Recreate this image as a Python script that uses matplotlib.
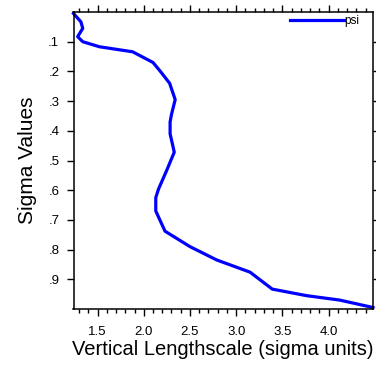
import matplotlib
matplotlib.use("Agg")
import matplotlib.pyplot as plt
from matplotlib.ticker import MultipleLocator, FixedLocator

plt.rcParams['font.family'] = ['Liberation Sans', 'DejaVu Sans']

# data
lengthscale = [1.24, 1.32, 1.34, 1.285, 1.34, 1.52, 1.88, 2.10, 2.18, 2.28, 2.34,
               2.30, 2.285, 2.285, 2.33, 2.25, 2.16, 2.13, 2.13, 2.23, 2.50, 2.79,
               3.15, 3.39, 3.76, 4.12, 4.48]
sigma = [0.005, 0.033, 0.055, 0.083, 0.10, 0.117, 0.134, 0.17, 0.20, 0.24, 0.295,
         0.345, 0.37, 0.41, 0.472, 0.532, 0.596, 0.625, 0.67, 0.738, 0.79, 0.835,
         0.876, 0.933, 0.955, 0.97, 0.995]
series_name = "psi"
y_ticks = [0.1, 0.2, 0.3, 0.4, 0.5, 0.6, 0.7, 0.8, 0.9]
y_ticklabels = [".1", ".2", ".3", ".4", ".5", ".6", ".7", ".8", ".9"]
x_ticks = [1.5, 2.0, 2.5, 3.0, 3.5, 4.0]
x_ticklabels = ["1.5", "2.0", "2.5", "3.0", "3.5", "4.0"]

W, H = 376, 371
fig = plt.figure(figsize=(W / 100, H / 100), dpi=100)
L, R, T, B = 73.5, 373, 12, 309
ax = fig.add_axes([L / W, 1 - B / H, (R - L) / W, (B - T) / H])

ax.plot(lengthscale, sigma, color=(0, 0, 1), lw=2.3, label=series_name,
        solid_joinstyle='round', clip_on=False)
ax.set_xlim(min(lengthscale), max(lengthscale))
ax.set_ylim(1.0, 0.0)

ax.xaxis.set_major_locator(FixedLocator(x_ticks))
ax.set_xticklabels(x_ticklabels)
ax.xaxis.set_minor_locator(MultipleLocator(0.1))
ax.yaxis.set_major_locator(FixedLocator(y_ticks))
ax.set_yticklabels(y_ticklabels)

ax.tick_params(which='both', direction='out', top=True, right=True,
               labeltop=False, labelright=False, width=1.0, color='black')
ax.tick_params(which='major', length=5.2, labelsize=9.5)
ax.tick_params(axis='x', which='major', pad=6.8)
ax.tick_params(axis='y', which='major', pad=5.0)
ax.tick_params(which='minor', length=2.7)
ax.tick_params(axis='y', which='minor', left=False, right=False)

for s in ax.spines.values():
    s.set_linewidth(1.1)

ax.set_xlabel("Vertical Lengthscale (sigma units)", fontsize=14.5, labelpad=2)
ax.set_ylabel("Sigma Values", fontsize=15, labelpad=8)

ax.legend(loc='center right', bbox_to_anchor=(359 / W, 1 - 21 / H),
          bbox_transform=fig.transFigure, frameon=False, fontsize=8.5,
          handlelength=4.6, handletextpad=0.0, borderpad=0, borderaxespad=0)

fig.savefig("out.png", dpi=100)
